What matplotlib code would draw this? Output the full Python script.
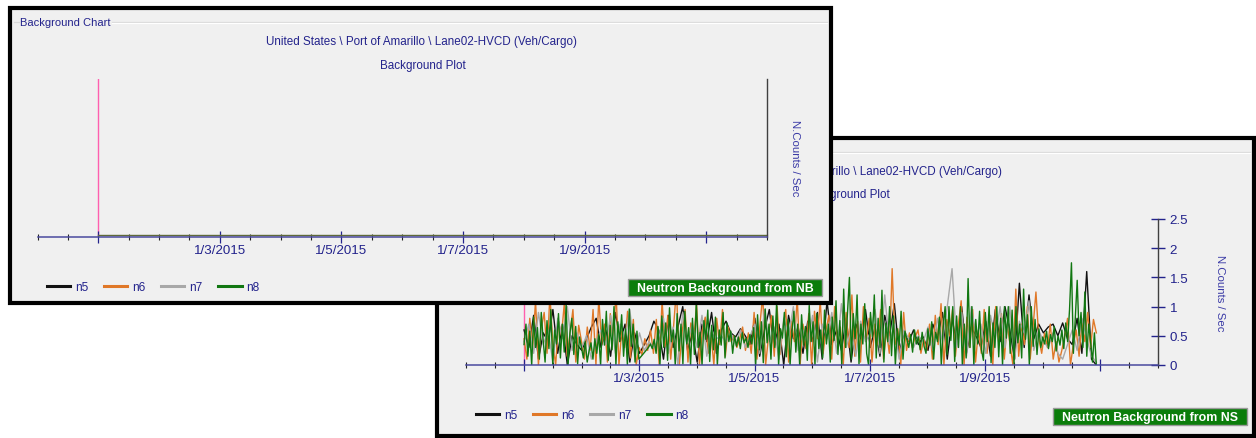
import numpy as np
import matplotlib
matplotlib.use("Agg")
import matplotlib.pyplot as plt
from matplotlib.patches import Rectangle
from matplotlib.lines import Line2D

plt.rcParams['font.family'] = ['Liberation Sans', 'DejaVu Sans']

# ---------------- data ----------------
series_names = ["n5", "n6", "n7", "n8"]
series_colors = ["#111111", "#e07828", "#a8a8a8", "#117711"]

x_min, x_max = -1, 11          # months relative to 1/1/2015
data_end = 9.93                # last sample (months)
major_ticks = [0, 2, 4, 6, 8, 10]
major_labels = ["", "1/3/2015", "1/5/2015", "1/7/2015", "1/9/2015", ""]
minor_ticks = [-1, -0.5, 0.5, 1, 1.5, 2.5, 3, 3.5, 4.5, 5, 5.5, 6.5, 7, 7.5,
               8.5, 9, 9.5, 10.5, 11]
marker_date = 0                # pink marker line
y_ticks_ns = [0, 0.5, 1, 1.5, 2, 2.5]
y_labels_ns = ["0", "0.5", "1", "1.5", "2", "2.5"]

# Neutron background from NS (counts / sec)
ns_n5 = [0.60, 0.30, 0.85, 0.10, 0.55, 0.40, 0.95, 0.20, 0.70, 0.00, 0.50, 0.35,
         0.25, 0.45, 0.65, 0.80, 0.30, 0.60, 0.15, 0.90, 0.40, 0.70, 0.05, 0.55,
         0.20, 0.35, 0.50, 0.75, 0.60, 0.10, 0.85, 0.30, 0.65, 1.00, 0.25, 0.55,
         0.05, 0.70, 0.40, 0.90, 0.20, 0.60, 0.75, 0.55, 0.48, 0.62, 0.50, 0.35,
         0.80, 0.15, 0.60, 0.95, 0.30, 0.70, 0.00, 0.85, 0.45, 0.65, 0.20, 0.75,
         0.40, 0.90, 0.10, 1.10, 0.35, 0.60, 0.25, 0.80, 0.05, 0.70, 0.45, 0.95,
         0.30, 0.65, 0.15, 0.85, 0.50, 1.05, 0.20, 0.55, 0.40, 0.60, 0.35, 0.48,
         0.25, 0.70, 0.45, 0.90, 0.10, 0.80, 0.35, 1.00, 0.20, 0.65, 0.50, 0.30,
         0.75, 0.15, 0.95, 0.40, 1.00, 0.60, 0.10, 1.40, 0.30, 1.20, 0.45, 0.70,
         0.55, 0.65, 0.70, 0.50, 0.72, 0.45, 0.35, 0.80, 0.20, 1.60, 0.10, 0.00]

ns_n6 = [0.45, 0.10, 0.80, 0.30, 1.10, 0.00, 0.62, 0.90, 0.20, 1.20,
         0.38, 0.00, 0.75, 0.50, 1.05, 0.15, 0.55, 0.95, 0.05, 0.68,
         0.40, 0.10, 0.65, 0.25, 0.95, 0.00, 1.15, 0.35, 0.70, 0.05,
         0.88, 0.42, 1.25, 0.00, 0.60, 0.30, 0.92, 0.12, 0.78, 0.00,
         0.30, 0.18, 0.45, 0.25, 0.60, 0.20, 0.78, 0.00, 1.10, 0.32,
         0.85, 0.10, 0.66, 1.30, 0.00, 0.58, 0.95, 0.05, 0.72, 0.40,
         1.05, 0.00, 0.60, 0.82, 0.20, 0.55, 0.00, 0.80, 0.35, 0.95,
         0.15, 0.65, 0.40, 0.50, 0.30, 0.45, 0.65, 0.25, 0.55, 0.20,
         0.90, 0.10, 0.68, 1.20, 0.00, 0.48, 0.85, 0.15, 1.00, 0.18,
         0.62, 0.95, 0.05, 0.75, 0.40, 1.15, 0.00, 0.70, 0.28, 0.88,
         0.00, 0.92, 0.45, 1.10, 0.20, 0.60, 0.85, 0.10, 1.00, 0.38,
         0.65, 0.00, 0.90, 0.30, 1.20, 0.15, 0.75, 0.05, 1.00, 0.40,
         0.80, 0.05, 0.70, 0.35, 0.95, 0.10, 0.60, 0.20, 1.65, 0.35,
         0.62, 0.00, 0.90, 0.25, 0.55, 0.30, 0.48, 0.60, 0.20, 0.45,
         0.25, 0.70, 0.10, 0.85, 0.35, 1.05, 0.00, 0.78, 0.50, 0.95,
         0.15, 0.68, 1.10, 0.00, 0.82, 0.30, 0.95, 0.05, 0.60, 0.20,
         0.95, 0.20, 0.75, 0.00, 1.00, 0.40, 0.88, 0.10, 0.70, 0.35,
         0.00, 1.30, 0.15, 0.70, 0.35, 1.00, 0.10, 0.65, 1.25, 0.45,
         0.20, 0.55, 0.30, 0.70, 0.10, 0.40, 0.05, 0.25, 0.50, 0.80,
         0.00, 0.35, 0.60, 0.15, 0.75, 0.40, 0.90, 0.30, 0.78, 0.55]

ns_n7 = [0.40, 0.70, 0.20, 0.90, 0.35, 0.60, 0.05, 0.80, 0.45, 1.00, 0.25, 0.55,
         0.30, 0.50, 0.10, 0.40, 0.60, 0.35, 0.85, 0.20, 0.70, 0.45, 0.95, 0.15,
         0.55, 0.25, 0.40, 0.30, 0.45, 0.80, 0.20, 0.65, 0.00, 0.90, 0.40, 0.70,
         0.30, 0.85, 0.15, 0.60, 0.45, 0.50, 0.40, 0.55, 0.35, 0.60, 0.30, 0.50,
         0.70, 0.20, 0.95, 0.40, 0.65, 0.10, 0.80, 0.50, 1.00, 0.25, 0.60, 0.35,
         0.85, 0.05, 0.70, 0.45, 0.90, 0.20, 1.05, 0.30, 0.60, 0.15, 0.75, 0.40,
         0.55, 0.95, 0.20, 1.20, 0.35, 0.70, 0.10, 0.60, 0.45, 0.30, 0.50, 0.40,
         0.65, 0.25, 0.80, 0.40, 1.00, 1.65, 0.30, 0.90, 0.15, 1.00, 0.50, 0.70,
         0.20, 0.85, 0.45, 1.00, 0.30, 1.00, 0.10, 0.75, 0.55, 1.10, 0.25, 0.60,
         0.40, 0.30, 0.55, 0.20, 0.10, 0.35, 0.60, 0.25, 0.80, 0.45, 0.15, 0.05]

ns_n8 = [0.35, 0.70, 0.15, 0.58, 0.00, 0.82, 0.30, 0.64, 0.10, 0.90,
         0.42, 0.05, 0.76, 0.28, 0.95, 0.00, 0.60, 0.36, 0.88, 0.12,
         0.70, 0.22, 1.05, 0.00, 0.55, 0.80, 0.18, 0.66, 0.02, 0.48,
         0.30, 0.12, 0.40, 0.05, 0.25, 0.38, 0.10, 0.45, 0.20, 0.52,
         0.00, 0.78, 0.34, 0.92, 0.08, 0.68, 0.26, 1.00, 0.00, 0.74,
         0.40, 0.86, 0.15, 0.62, 0.00, 0.96, 0.32, 0.70, 0.05, 0.58,
         0.10, 0.14, 0.18, 0.22, 0.26, 0.30, 0.36, 0.28, 0.44, 0.20,
         0.66, 0.00, 0.84, 0.30, 0.72, 0.08, 0.98, 0.40, 0.60, 0.00,
         0.88, 0.24, 0.70, 0.02, 0.92, 0.36, 0.64, 0.00, 0.80, 0.18,
         1.08, 0.30, 0.56, 0.00, 0.76, 0.44, 0.94, 0.06, 0.68, 0.26,
         0.82, 0.00, 0.60, 0.34, 0.90, 0.12, 0.72, 0.40, 0.58, 0.20,
         0.50, 0.32, 0.48, 0.28, 0.55, 0.38, 0.46, 0.30, 0.52, 0.36,
         0.64, 0.00, 0.86, 0.26, 0.74, 0.04, 0.96, 0.38, 0.70, 0.10,
         0.84, 0.30, 1.10, 0.00, 0.62, 0.46, 0.90, 0.14, 0.78, 0.00,
         0.58, 0.92, 0.22, 0.70, 0.00, 0.86, 0.34, 0.66, 0.08, 1.02,
         0.40, 0.74, 0.00, 0.88, 0.28, 0.60, 0.12, 0.94, 0.36, 0.70,
         0.05, 0.82, 0.42, 1.10, 0.18, 0.76, 0.00, 1.30, 0.30, 0.90,
         1.50, 0.10, 0.88, 0.45, 1.20, 0.02, 0.70, 0.36, 1.05, 0.20,
         0.00, 0.90, 0.48, 1.20, 0.12, 0.80, 0.30, 1.28, 0.05, 0.72,
         0.40, 1.00, 0.16, 0.84, 0.00, 0.62, 0.34, 0.92, 0.10, 0.58,
         0.44, 0.30, 0.52, 0.22, 0.60, 0.36, 0.48, 0.26, 0.56, 0.32,
         0.20, 0.62, 0.34, 0.74, 0.10, 0.56, 0.40, 0.82, 0.00, 0.66,
         1.00, 0.18, 1.00, 0.42, 1.00, 0.06, 0.84, 0.30, 1.00, 0.00,
         0.70, 0.12, 1.48, 0.30, 1.00, 0.00, 0.78, 0.36, 0.92, 0.26,
         0.08, 0.90, 0.40, 1.00, 0.04, 0.72, 0.30, 1.00, 0.14, 0.80,
         0.00, 1.00, 0.46, 1.00, 0.20, 0.94, 0.02, 1.00, 0.38, 0.70,
         0.12, 1.30, 0.44, 0.86, 0.00, 1.00, 0.32, 0.78, 0.18, 0.62,
         0.30, 0.48, 0.36, 0.58, 0.28, 0.52, 0.40, 0.66, 0.24, 0.50,
         0.34, 0.60, 0.28, 0.72, 0.40, 0.95, 1.75, 0.20, 0.80, 1.45,
         0.50, 0.90, 0.30, 1.25, 0.15, 0.70, 0.40, 0.05, 0.55, 0.00]

ns_series = [ns_n5, ns_n6, ns_n7, ns_n8]

# Neutron background from NB: flat zero readings
nb_dates = [0, 11]
nb_values = [0.0, 0.0]

# ---------------- styling ----------------
W, H = 1256, 439
BG = "#f0f0f0"
NAVY = "#23238c"
AXIS_BLUE = "#4a4a9e"
TXT = 8.4
TICK_TXT = 9.6

fig = plt.figure(figsize=(W / 100, H / 100), dpi=100)
fig.patch.set_facecolor("white")


def px_axes(left, top, right, bottom, z):
    return fig.add_axes([left / W, 1 - bottom / H, (right - left) / W, (bottom - top) / H], zorder=z)


def overlay(z):
    a = fig.add_axes([0, 0, 1, 1], zorder=z)
    a.set_xlim(0, W)
    a.set_ylim(H, 0)
    a.axis("off")
    a.patch.set_visible(False)
    return a


def panel_frame(o, left, top, right, bottom, box_text, legend_y, legend_x, box):
    o.add_patch(Rectangle((left, top), right - left, bottom - top, facecolor=BG,
                          edgecolor="black", linewidth=3.0, zorder=1))
    # group box line + caption
    o.plot([left + 4, left + 9], [top + 14, top + 14], color="#d9d9d9", lw=0.9, zorder=2)
    o.plot([left + 102, right - 4], [top + 14, top + 14], color="#d9d9d9", lw=0.9, zorder=2)
    o.plot([left + 102, right - 4], [top + 15, top + 15], color="white", lw=0.9, zorder=2)
    o.text(left + 10, top + 13.5, "Background Chart", fontsize=8.0, color=NAVY,
           va="center", ha="left", zorder=3)
    cx = (left + right) / 2
    o.text(cx + 1, top + 33.5, "United States \\ Port of Amarillo \\ Lane02-HVCD (Veh/Cargo)",
           fontsize=TXT, color=NAVY, ha="center", va="center", zorder=3)
    o.text(cx + 2, top + 56.5, "Background Plot", fontsize=TXT, color=NAVY,
           ha="center", va="center", zorder=3)
    # status box
    bx0, by0, bx1, by1 = box
    o.add_patch(Rectangle((bx0, by0), bx1 - bx0, by1 - by0, facecolor="#0b7d0b",
                          edgecolor="#9a9a9a", linewidth=1.0, zorder=3))
    o.text((bx0 + bx1) / 2, (by0 + by1) / 2 + 0.5, box_text, fontsize=8.9, fontweight="bold",
           color="white", ha="center", va="center", zorder=4)
    # legend
    handles = [Line2D([], [], color=c, lw=2.2) for c in series_colors]
    leg = o.legend(handles, series_names, loc="center left",
                   bbox_to_anchor=(legend_x, legend_y), bbox_transform=o.transData,
                   ncol=4, frameon=False, fontsize=8.6, handlelength=1.95,
                   handletextpad=0.42, columnspacing=1.3, borderpad=0, borderaxespad=0)
    for t in leg.get_texts():
        t.set_color(NAVY)
    leg.set_zorder(5)


def style_axes(ax, ylim, show_y):
    ax.set_xlim(x_min, x_max)
    ax.set_ylim(*ylim)
    ax.patch.set_visible(False)
    for s in ["left", "top"]:
        ax.spines[s].set_visible(False)
    ax.spines["bottom"].set_color(AXIS_BLUE)
    ax.spines["bottom"].set_linewidth(1.1)
    ax.spines["right"].set_color("#404040")
    ax.spines["right"].set_linewidth(1.0)
    ax.set_xticks(major_ticks)
    ax.set_xticklabels(major_labels)
    ax.set_xticks(minor_ticks, minor=True)
    ax.tick_params(axis="x", which="major", direction="inout", length=8.6, width=0.9,
                   color=NAVY, labelsize=TICK_TXT, labelcolor=NAVY, pad=1.0)
    ax.tick_params(axis="x", which="minor", direction="inout", length=4.6, width=0.8,
                   color="#222222")
    ax.yaxis.tick_right()
    if show_y:
        ax.set_yticks(y_ticks_ns)
        ax.set_yticklabels(y_labels_ns)
        ax.tick_params(axis="y", which="major", direction="inout", length=9.5, width=1.0,
                       color=NAVY, labelsize=TICK_TXT, labelcolor=NAVY, pad=3.5)
    else:
        ax.set_yticks([])
    ax.axvline(marker_date, color="#ff5fae", lw=1.0, zorder=1)


# ---------- Panel 2 (back): Neutron Background from NS ----------
o2 = overlay(1)
panel_frame(o2, 437, 138.5, 1253.5, 437.5, "Neutron Background from NS",
            416, 476, (1053, 409, 1247, 426))
o2.text(1220, 293, "N.Counts / Sec", rotation=-90, fontsize=8.2, color="#3a3aa6",
        ha="center", va="center")

ax2 = px_axes(466.4, 220, 1158, 366, 2)
style_axes(ax2, (0, 2.5), True)
for vals, col in zip(ns_series, series_colors):
    t = np.linspace(0, data_end, len(vals))
    ax2.plot(t, vals, color=col, lw=1.0, zorder=2)

# ---------- Panel 1 (front): Neutron Background from NB ----------
o1 = overlay(3)
panel_frame(o1, 10, 9, 831, 303.5, "Neutron Background from NB",
            288, 47, (628, 280, 822, 297))
o1.text(795, 158.5, "N.Counts / Sec", rotation=-90, fontsize=8.2, color="#3a3aa6",
        ha="center", va="center")

ax1 = px_axes(37.5, 80, 767, 238, 4)
style_axes(ax1, (-0.014, 1), False)
ax1.plot(nb_dates, nb_values, color="#5f6a3a", lw=1.0, zorder=2)

fig.savefig("out.png", dpi=100, facecolor="white")
